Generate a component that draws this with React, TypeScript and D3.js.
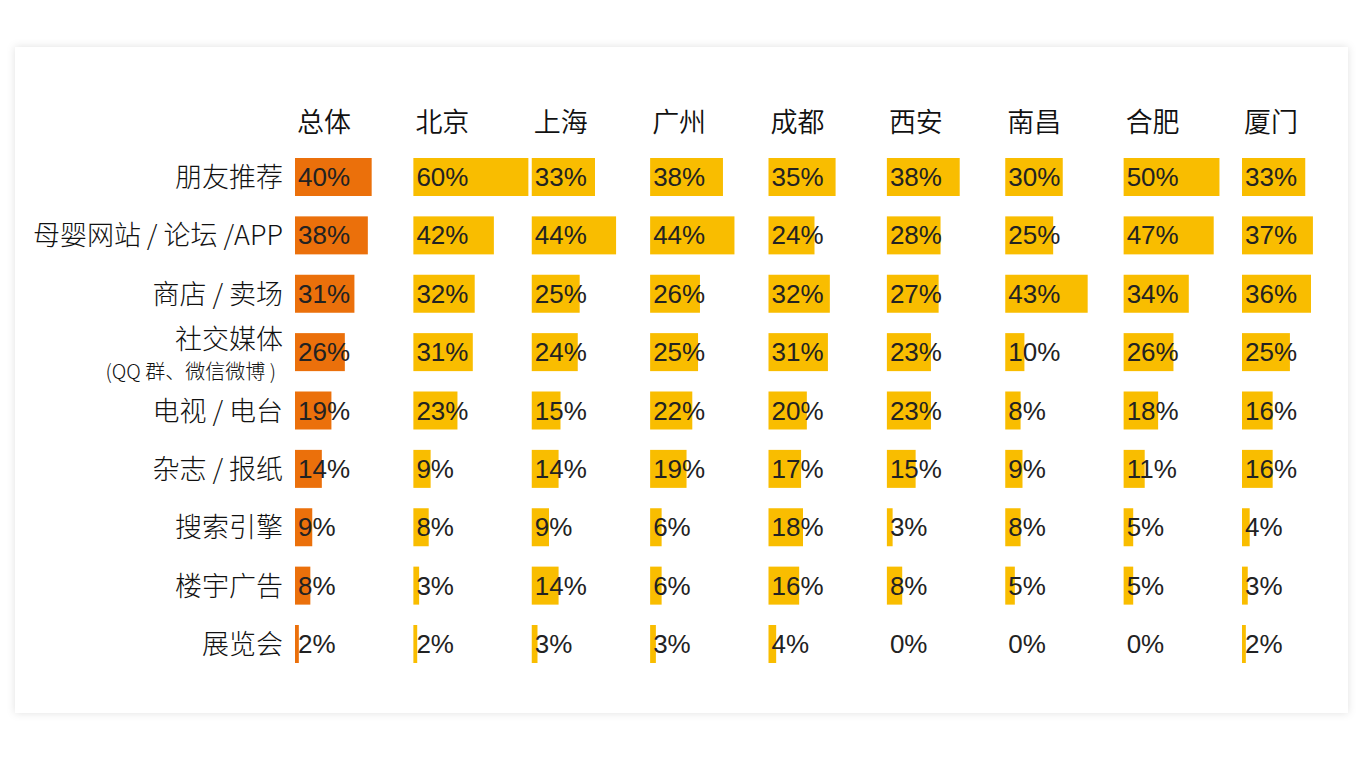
import {useEffect} from "react";
import * as d3 from "d3";

const columns = ["总体", "北京", "上海", "广州", "成都", "西安", "南昌", "合肥", "厦门"]
const categories = ["朋友推荐", "母婴网站 / 论坛 /APP", "商店 / 卖场", "社交媒体", "电视 / 电台", "杂志 / 报纸", "搜索引擎", "楼宇广告", "展览会"]
const subLabel = "(QQ 群、微信微博 )"

const overall = [40, 38, 31, 26, 19, 14, 9, 8, 2]
const beijing = [60, 42, 32, 31, 23, 9, 8, 3, 2]
const shanghai = [33, 44, 25, 24, 15, 14, 9, 14, 3]
const guangzhou = [38, 44, 26, 25, 22, 19, 6, 6, 3]
const chengdu = [35, 24, 32, 31, 20, 17, 18, 16, 4]
const xian = [38, 28, 27, 23, 23, 15, 3, 8, 0]
const nanchang = [30, 25, 43, 10, 8, 9, 8, 5, 0]
const hefei = [50, 47, 34, 26, 18, 11, 5, 5, 0]
const xiamen = [33, 37, 36, 25, 16, 16, 4, 3, 2]

const series = [overall, beijing, shanghai, guangzhou, chengdu, xian, nanchang, hefei, xiamen]

const W = 1359
const H = 768
const cjk = "'Noto Sans CJK SC', sans-serif"
const num = "'Liberation Sans', Arial, sans-serif"

const App = () => {
    useEffect(() => {
        document.body.style.margin = "0"
    }, [])

    const xCol = d3.scalePoint<string>().domain(columns).range([295, 1242])
    const yRow = d3.scalePoint<string>().domain(categories).range([177, 644])
    const w = d3.scaleLinear().domain([0, 60]).range([0, 115])
    const barH = 38

    return (
        <svg width={W} height={H} style={{display: "block"}}>
            <defs>
                <filter id="shadow" x="-5%" y="-5%" width="110%" height="110%">
                    <feDropShadow dx="0" dy="0" stdDeviation="4" floodColor="#000" floodOpacity="0.12"/>
                </filter>
            </defs>
            <rect x={0} y={0} width={W} height={H} fill="#fff"/>
            <rect x={15} y={47} width={1333} height={666} fill="#fff" filter="url(#shadow)"/>

            {columns.map(c => (
                <text key={c} x={xCol(c)! + 2} y={132} fontSize={27} fontWeight={350} fontFamily={cjk} fill="#111">{c}</text>
            ))}

            {categories.map((c, i) => {
                const cy = yRow(c)!
                if (i === 3) {
                    return (
                        <g key={c}>
                            <text x={283} y={cy - 3} textAnchor="end" fontSize={27} fontWeight={300} fontFamily={cjk} fill="#111">{c}</text>
                            <text x={276} y={cy + 27} textAnchor="end" fontSize={20} fontWeight={300} fontFamily={cjk} fill="#111">{subLabel}</text>
                        </g>
                    )
                }
                return (
                    <text key={c} x={283} y={cy + 10} textAnchor="end" fontSize={27} fontWeight={300} fontFamily={cjk} fill="#111">{c}</text>
                )
            })}

            {series.map((vals, j) => (
                <g key={columns[j]}>
                    {vals.map((v, i) => {
                        const x0 = xCol(columns[j])!
                        const cy = yRow(categories[i])!
                        return (
                            <g key={i}>
                                {v > 0 && (
                                    <rect x={x0} y={cy - barH / 2} width={w(v)} height={barH}
                                          fill={j === 0 ? "#EB700B" : "#F9BD00"}/>
                                )}
                                <text x={x0 + 3} y={cy + 9} fontSize={26} fontFamily={num} fill="#222">{v}%</text>
                            </g>
                        )
                    })}
                </g>
            ))}
        </svg>
    )
}

export default App
